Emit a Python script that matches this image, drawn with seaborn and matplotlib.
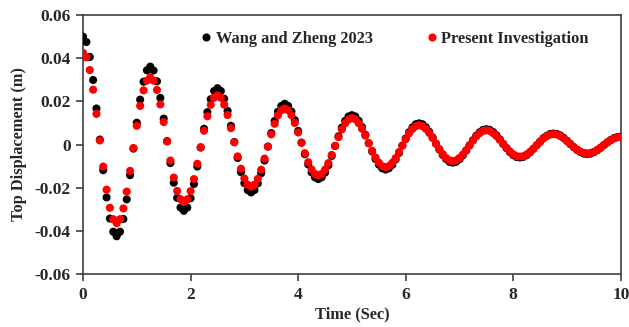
import numpy as np
import pandas as pd
import matplotlib
matplotlib.use("Agg")
import matplotlib.pyplot as plt
import seaborn as sns

# Sampling grid of the free-vibration record (s)
time_s = np.arange(161) * 0.0625

# Top displacement (m), Wang and Zheng 2023
wang_zheng_2023 = [
    0.0500, 0.0475, 0.0406, 0.0299, 0.0167, 0.0023, -0.0119, -0.0245, -0.0343, -0.0404,
    -0.0425, -0.0404, -0.0345, -0.0254, -0.0142, -0.0019, 0.0101, 0.0208, 0.0291, 0.0344,
    0.0361, 0.0343, 0.0293, 0.0216, 0.0120, 0.0016, -0.0086, -0.0177, -0.0247, -0.0292,
    -0.0307, -0.0292, -0.0249, -0.0183, -0.0102, -0.0014, 0.0073, 0.0150, 0.0210, 0.0248,
    0.0261, 0.0248, 0.0212, 0.0156, 0.0087, 0.0012, -0.0062, -0.0128, -0.0179, -0.0211,
    -0.0222, -0.0211, -0.0180, -0.0133, -0.0074, -0.0010, 0.0053, 0.0109, 0.0152, 0.0179,
    0.0189, 0.0179, 0.0153, 0.0113, 0.0063, 0.0009, -0.0045, -0.0092, -0.0129, -0.0152,
    -0.0160, -0.0152, -0.0130, -0.0096, -0.0053, -0.0007, 0.0038, 0.0078, 0.0110, 0.0130,
    0.0136, 0.0130, 0.0110, 0.0081, 0.0045, 0.0006, -0.0032, -0.0067, -0.0093, -0.0110,
    -0.0116, -0.0110, -0.0094, -0.0069, -0.0039, -0.0005, 0.0028, 0.0057, 0.0079, 0.0094,
    0.0098, 0.0094, 0.0080, 0.0059, 0.0033, 0.0004, -0.0023, -0.0048, -0.0067, -0.0080,
    -0.0084, -0.0080, -0.0068, -0.0050, -0.0028, -0.0004, 0.0020, 0.0041, 0.0057, 0.0068,
    0.0071, 0.0068, 0.0058, 0.0043, 0.0024, 0.0003, -0.0017, -0.0035, -0.0049, -0.0058,
    -0.0060, -0.0057, -0.0049, -0.0036, -0.0020, -0.0003, 0.0014, 0.0030, 0.0041, 0.0049,
    0.0051, 0.0049, 0.0042, 0.0031, 0.0017, 0.0002, -0.0012, -0.0025, -0.0035, -0.0042,
    -0.0044, -0.0042, -0.0035, -0.0026, -0.0015, -0.0002, 0.0010, 0.0021, 0.0030, 0.0035,
    0.0037,
]

# Top displacement (m), present investigation
present_investigation = [
    0.0425, 0.0404, 0.0345, 0.0254, 0.0142, 0.0019, -0.0102, -0.0209, -0.0293, -0.0346,
    -0.0364, -0.0346, -0.0296, -0.0218, -0.0122, -0.0016, 0.0087, 0.0179, 0.0251, 0.0296,
    0.0311, 0.0296, 0.0253, 0.0186, 0.0104, 0.0014, -0.0074, -0.0153, -0.0215, -0.0253,
    -0.0267, -0.0254, -0.0216, -0.0160, -0.0089, -0.0012, 0.0064, 0.0131, 0.0184, 0.0217,
    0.0228, 0.0217, 0.0185, 0.0137, 0.0076, 0.0010, -0.0055, -0.0112, -0.0157, -0.0186,
    -0.0195, -0.0186, -0.0159, -0.0117, -0.0065, -0.0009, 0.0047, 0.0096, 0.0135, 0.0159,
    0.0167, 0.0159, 0.0136, 0.0100, 0.0056, 0.0008, -0.0040, -0.0082, -0.0115, -0.0136,
    -0.0143, -0.0136, -0.0116, -0.0086, -0.0048, -0.0006, 0.0034, 0.0070, 0.0099, 0.0116,
    0.0123, 0.0117, 0.0099, 0.0073, 0.0041, 0.0006, -0.0029, -0.0060, -0.0084, -0.0100,
    -0.0105, -0.0100, -0.0085, -0.0063, -0.0035, -0.0005, 0.0025, 0.0052, 0.0072, 0.0085,
    0.0090, 0.0085, 0.0073, 0.0054, 0.0030, 0.0004, -0.0021, -0.0044, -0.0062, -0.0073,
    -0.0077, -0.0073, -0.0062, -0.0046, -0.0026, -0.0003, 0.0018, 0.0038, 0.0053, 0.0063,
    0.0066, 0.0063, 0.0053, 0.0039, 0.0022, 0.0003, -0.0016, -0.0032, -0.0045, -0.0054,
    -0.0056, -0.0054, -0.0046, -0.0034, -0.0019, -0.0003, 0.0013, 0.0028, 0.0039, 0.0046,
    0.0048, 0.0046, 0.0039, 0.0029, 0.0016, 0.0002, -0.0012, -0.0024, -0.0033, -0.0039,
    -0.0041, -0.0039, -0.0034, -0.0025, -0.0014, -0.0002, 0.0010, 0.0020, 0.0028, 0.0034,
    0.0035,
]

series_names = ["Wang and Zheng 2023", "Present Investigation"]
series_colors = ["#000000", "#FF0000"]

x_ticks = [0, 2, 4, 6, 8, 10]
x_tick_labels = ["0", "2", "4", "6", "8", "10"]
y_ticks = [-0.06, -0.04, -0.02, 0.0, 0.02, 0.04, 0.06]
y_tick_labels = ["-0.06", "-0.04", "-0.02", "0", "0.02", "0.04", "0.06"]

df = pd.concat([
    pd.DataFrame({"Time": time_s, "Disp": wang_zheng_2023, "Source": series_names[0]}),
    pd.DataFrame({"Time": time_s, "Disp": present_investigation, "Source": series_names[1]}),
], ignore_index=True)

sns.set_style("white")
plt.rcParams["font.family"] = ["Liberation Serif", "DejaVu Serif"]
plt.rcParams["font.weight"] = "bold"

fig, ax = plt.subplots(figsize=(6.29, 3.27), dpi=100)
fig.subplots_adjust(left=0.132, right=0.987, top=0.954, bottom=0.162)

sns.scatterplot(
    data=df, x="Time", y="Disp", hue="Source",
    palette=dict(zip(series_names, series_colors)),
    s=34, linewidth=0, ax=ax, zorder=3,
)

ax.set_xlim(0, 10)
ax.set_ylim(-0.06, 0.06)
ax.set_xticks(x_ticks)
ax.set_xticklabels(x_tick_labels)
ax.set_yticks(y_ticks)
ax.set_yticklabels(y_tick_labels)
ax.tick_params(axis="both", which="major", direction="out", length=5, width=1.2,
               color="#404040", labelsize=12.5, pad=4, left=True, bottom=True)
for lab in ax.get_xticklabels() + ax.get_yticklabels():
    lab.set_fontweight("bold")
for sp in ax.spines.values():
    sp.set_color("#404040")
    sp.set_linewidth(1.2)

ax.set_xlabel("Time (Sec)", fontsize=11.8, fontweight="bold", labelpad=3)
ax.set_ylabel("Top Displacement (m)", fontsize=11.8, fontweight="bold", labelpad=5)

leg = ax.legend(
    loc="center", bbox_to_anchor=(0.58, 0.907), ncol=2, frameon=False,
    handlelength=0.6, handletextpad=0.3, columnspacing=3.3, markerscale=1.0,
    prop={"family": ["Liberation Serif"], "weight": "bold", "size": 11.8},
)
leg.set_title(None)

fig.savefig("out.png", dpi=100)
